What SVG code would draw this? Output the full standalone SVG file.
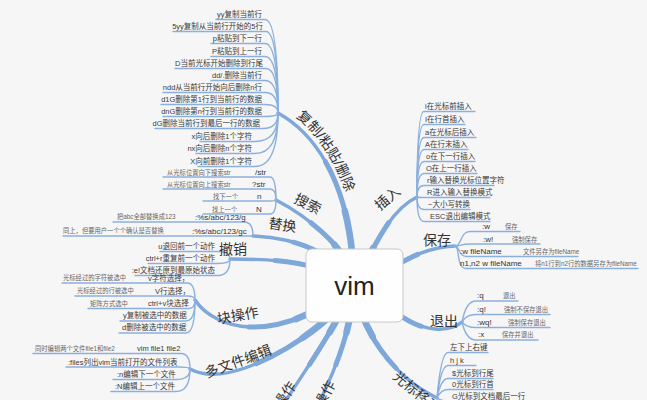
<svg xmlns="http://www.w3.org/2000/svg" width="647" height="400" viewBox="0 0 647 400">
<style>
.b1,.b2,.b3{fill:none;stroke:#7ea7da;stroke-linecap:round}
.b1{stroke-width:3.4}
.b2{stroke-width:5;stroke-dasharray:65 200}
.b3{stroke-width:6.6;stroke-dasharray:38 200}
.lf{fill:none;stroke:#8cb0de;stroke-width:1.4;stroke-linecap:round}
text{font-family:"Liberation Sans","Noto Sans CJK SC",sans-serif}
.t{font-size:7.5px;fill:#3a3a3a}
.d{font-size:6.3px;fill:#666}
.k{font-size:8px;fill:#333}
.lb{font-size:14px;fill:#333}
</style>
<defs>
<path id="tpA" d="M281,107 C308,122 358,167 361,285"/>
<path id="bA" pathLength="100" d="M354,285 C352,170 305,128 278,113"/>
<path id="bB" pathLength="100" d="M354,285 C352,250 305,215 276,200"/>
<path id="bC" pathLength="100" d="M354,285 C335,255 300,238 253,236"/>
<path id="bD" pathLength="100" d="M354,285 C320,262 280,259 230,259"/>
<path id="bE" pathLength="100" d="M354,285 C320,312 285,328 250,327 C225,326 205,315 195,300"/>
<path id="bF" pathLength="100" d="M354,285 C340,315 290,352 245,368 C225,375 205,377 190,369"/>
<path id="bG" pathLength="100" d="M354,285 C335,330 305,370 283,405"/>
<path id="bH" pathLength="100" d="M354,285 C352,330 335,370 318,405"/>
<path id="bI" pathLength="100" d="M354,285 C375,245 390,210 417,197"/>
<path id="bS" pathLength="100" d="M354,285 C390,275 410,248 455,246"/>
<path id="bQ" pathLength="100" d="M354,285 C385,300 405,327 435,329 C448,330 456,327 462,322"/>
<path id="bM" pathLength="100" d="M354,285 C362,330 390,375 437,398"/>
</defs>
<rect width="647" height="400" fill="#f6f6f6"/>
<g id="connectors">
<use href="#bA" class="b1"/><use href="#bA" class="b2"/><use href="#bA" class="b3"/>
<use href="#bB" class="b1"/><use href="#bB" class="b2"/><use href="#bB" class="b3"/>
<use href="#bC" class="b1"/><use href="#bC" class="b2"/><use href="#bC" class="b3"/>
<use href="#bD" class="b1"/><use href="#bD" class="b2"/><use href="#bD" class="b3"/>
<use href="#bE" class="b1"/><use href="#bE" class="b2"/><use href="#bE" class="b3"/>
<use href="#bF" class="b1"/><use href="#bF" class="b2"/><use href="#bF" class="b3"/>
<use href="#bG" class="b1"/><use href="#bG" class="b2"/><use href="#bG" class="b3"/>
<use href="#bH" class="b1"/><use href="#bH" class="b2"/><use href="#bH" class="b3"/>
<use href="#bI" class="b1"/><use href="#bI" class="b2"/><use href="#bI" class="b3"/>
<use href="#bS" class="b1"/><use href="#bS" class="b2"/><use href="#bS" class="b3"/>
<use href="#bQ" class="b1"/><use href="#bQ" class="b2"/><use href="#bQ" class="b3"/>
<use href="#bM" class="b1"/><use href="#bM" class="b2"/><use href="#bM" class="b3"/>
<!-- copy/paste/delete leaves -->
<path class="lf" d="M278,113 Q278,19.5 265,19.5 H216"/>
<path class="lf" d="M278,113 Q278,31.5 266,31.5 H173"/>
<path class="lf" d="M278,113 Q278,43.5 265,43.5 H211"/>
<path class="lf" d="M278,113 Q278,56.5 265,56.5 H211"/>
<path class="lf" d="M278,113 Q278,68.5 266,68.5 H175"/>
<path class="lf" d="M278,113 Q278,80.5 265,80.5 H211"/>
<path class="lf" d="M278,113 Q278,92.5 265,92.5 H163"/>
<path class="lf" d="M278,113 Q278,104.5 265,104.5 H161"/>
<path class="lf" d="M278,113 Q278,116.5 265,116.5 H163"/>
<path class="lf" d="M278,113 Q278,128.5 263,128.5 H155"/>
<path class="lf" d="M278,113 Q278,141.5 255,141.5 H200"/>
<path class="lf" d="M278,113 Q278,153.5 255,153.5 H196"/>
<path class="lf" d="M278,113 Q278,166.5 255,166.5 H198"/>
<!-- search leaves -->
<path class="lf" d="M276,200 Q276,177 270,177 H163"/>
<path class="lf" d="M276,200 Q276,189 270,189 H163"/>
<path class="lf" d="M276,200 Q276,201 270,201 H203"/>
<path class="lf" d="M276,200 Q276,214 270,214 H203"/>
<!-- replace leaves -->
<path class="lf" d="M253,236 C253,226 250,222 244,222 H113"/>
<path class="lf" d="M253,236 H63"/>
<!-- undo leaves -->
<path class="lf" d="M230,259 Q230,251.5 218,251.5 H160"/>
<path class="lf" d="M230,259 Q230,263.5 218,263.5 H148"/>
<path class="lf" d="M230,259 Q230,275.5 218,275.5 H135"/>
<!-- block leaves -->
<path class="lf" d="M195,300 Q195,283 187,283 H62"/>
<path class="lf" d="M195,300 Q195,296 187,296 H75"/>
<path class="lf" d="M195,300 Q195,308.5 189,308.5 H88"/>
<path class="lf" d="M195,300 Q195,321 186,321 H120"/>
<path class="lf" d="M195,300 Q195,333 186,333 H119"/>
<!-- multi-file leaves -->
<path class="lf" d="M190,369 Q190,353.5 181,353.5 H33"/>
<path class="lf" d="M190,369 Q190,367 178,367 H66"/>
<path class="lf" d="M190,369 Q190,379.5 176,379.5 H113"/>
<path class="lf" d="M190,369 Q190,391.5 176,391.5 H111"/>
<!-- insert leaves -->
<path class="lf" d="M417,197 Q417,111.5 424,111.5 H475"/>
<path class="lf" d="M417,197 Q417,124.5 424,124.5 H465"/>
<path class="lf" d="M417,197 Q417,137.5 424,137.5 H476"/>
<path class="lf" d="M417,197 Q417,149.5 424,149.5 H468"/>
<path class="lf" d="M417,197 Q417,161.5 424,161.5 H475"/>
<path class="lf" d="M417,197 Q417,173.5 424,173.5 H477"/>
<path class="lf" d="M417,197 Q417,185.5 424,185.5 H494"/>
<path class="lf" d="M417,197 Q418,197.5 424,197.5 H490"/>
<path class="lf" d="M417,197 Q417,209.5 424,209.5 H470"/>
<path class="lf" d="M417,197 Q417,221.5 424,221.5 H490"/>
<!-- save leaves -->
<path class="lf" d="M455,246 C462,246 460,231.5 470,231.5 H520"/>
<path class="lf" d="M455,246 C462,246 460,244 470,244 H540"/>
<path class="lf" d="M455,246 C460,246 458,256.5 466,256.5 H578"/>
<path class="lf" d="M455,246 C460,246 456,268.5 466,268.5 H638"/>
<!-- quit leaves -->
<path class="lf" d="M462,322 Q466,301 476,301 H518"/>
<path class="lf" d="M462,322 Q466,314.5 476,314.5 H550"/>
<path class="lf" d="M462,322 Q466,327.5 476,327.5 H550"/>
<path class="lf" d="M462,322 Q466,340 476,340 H538"/>
<!-- cursor leaves -->
<path class="lf" d="M437,398 Q441,352.5 448,352.5 H488"/>
<path class="lf" d="M437,398 Q441,365.5 448,365.5 H476"/>
<path class="lf" d="M437,398 Q441,378.5 448,378.5 H493"/>
<path class="lf" d="M437,398 Q441,389.5 448,389.5 H493"/>
<path class="lf" d="M437,398 Q441,401 448,401 H521"/>
</g>

<g id="center">
<rect x="306" y="249" width="97" height="73" rx="6" fill="#fefefe" stroke="#c8c8c8"/>
<text x="354.5" y="295" text-anchor="middle" font-size="26" fill="#222">vim</text>
</g>

<g id="copy-paste-delete">
<text class="lb"><textPath href="#tpA" startOffset="18">复制/粘贴/删除</textPath></text>
<g text-anchor="end" class="t">
<text x="262" y="17">yy复制当前行</text>
<text x="263" y="29">5yy复制从当前行开始的5行</text>
<text x="262" y="41">p粘贴到下一行</text>
<text x="262" y="54">P粘贴到上一行</text>
<text x="263" y="66">D当前光标开始删除到行尾</text>
<text x="262" y="78">dd/.删除当前行</text>
<text x="262" y="90">ndd从当前行开始向后删除n行</text>
<text x="262" y="102">d1G删除第1行到当前行的数据</text>
<text x="262" y="114">dnG删除第n行到当前行的数据</text>
<text x="260" y="126">dG删除当前行到最后一行的数据</text>
<text x="252" y="139">x向后删除1个字符</text>
<text x="252" y="151">nx向后删除n个字符</text>
<text x="252" y="164">X向前删除1个字符</text>
</g>
</g>

<g id="search">
<text class="lb" transform="translate(293,202) rotate(27)">搜索</text>
<text class="d" x="167" y="175">从光标位置向下搜索str</text>
<text class="k" x="255" y="175">/str</text>
<text class="d" x="167" y="187">从光标位置向上搜索str</text>
<text class="k" x="252" y="187">?str</text>
<text class="d" x="213" y="199">找下一个</text>
<text class="k" x="257" y="199">n</text>
<text class="d" x="212" y="212">找上一个</text>
<text class="k" x="256" y="212">N</text>
</g>

<g id="replace">
<text class="lb" transform="translate(268,228) rotate(8)">替换</text>
<text class="d" x="117" y="219">把abc全部替换成123</text>
<text class="k" x="195" y="220">:%s/abc/123/g</text>
<text class="d" x="63" y="233">同上，但要用户一个个确认是否替换</text>
<text class="k" x="192" y="234">:%s/abc/123/gc</text>
</g>

<g id="undo">
<text class="lb" x="219" y="254">撤销</text>
<g text-anchor="end" class="t">
<text x="215" y="249">u退回前一个动作</text>
<text x="215" y="261">ctrl+r重复前一个动作</text>
<text x="215" y="273">:e!文档还原到最原始状态</text>
</g>
</g>

<g id="block">
<text class="lb" transform="translate(218,324) rotate(-10)">块操作</text>
<text class="d" x="63" y="280">光标经过的字符被选中</text>
<text class="t" x="148" y="281">v字符选择，</text>
<text class="d" x="77" y="293">光标经过的行被选中</text>
<text class="t" x="155" y="294">V行选择，</text>
<text class="d" x="90" y="306">矩阵方式选中</text>
<text class="t" x="148" y="306">ctrl+v块选择</text>
<text class="t" x="123" y="318">y复制被选中的数据</text>
<text class="t" x="122" y="330">d删除被选中的数据</text>
</g>

<g id="multi-file">
<text class="lb" transform="translate(207,378) rotate(-20)">多文件编辑</text>
<text class="d" x="35" y="351">同时编辑两个文件file1和file2</text>
<text class="t" x="137" y="351">vim file1 file2</text>
<text class="t" x="68" y="365">:files列出vim当前打开的文件列表</text>
<text class="t" x="117" y="377">:n编辑下一个文件</text>
<text class="t" x="115" y="389">:N编辑上一个文件</text>
</g>

<g id="window">
<text class="lb" text-anchor="end" transform="translate(297,386) rotate(-55)">多窗口操作</text>
</g>
<g id="tab">
<text class="lb" text-anchor="end" transform="translate(336,384) rotate(-62)">多标签操作</text>
</g>

<g id="insert">
<text class="lb" transform="translate(380,211) rotate(-40)">插入</text>
<g class="t">
<text x="425" y="109">i在光标前插入</text>
<text x="425" y="122">I在行首插入</text>
<text x="425" y="135">a在光标后插入</text>
<text x="425" y="147">A在行末插入</text>
<text x="426" y="159">o在下一行插入</text>
<text x="426" y="171">O在上一行插入</text>
<text x="427" y="183">r输入替换光标位置字符</text>
<text x="427" y="195">R进入输入替换模式</text>
<text x="428" y="207">~大小写转换</text>
<text x="430" y="219">ESC退出编辑模式</text>
</g>
</g>

<g id="save">
<text class="lb" x="423" y="245">保存</text>
<text class="k" x="482" y="229">:w</text>
<text class="d" x="505" y="229">保存</text>
<text class="k" x="483" y="242">:w!</text>
<text class="d" x="512" y="242">强制保存</text>
<text class="k" x="460" y="254">:w fileName</text>
<text class="d" x="523" y="254">文件另存为fileName</text>
<text class="k" x="460" y="266">n1,n2 w fileName</text>
<text class="d" x="535" y="266">将n1行到n2行的数据另存为fileName</text>
</g>

<g id="quit">
<text class="lb" x="430" y="326">退出</text>
<text class="k" x="477" y="298">:q</text>
<text class="d" x="503" y="298">退出</text>
<text class="k" x="477" y="312">:q!</text>
<text class="d" x="504" y="312">强制不保存退出</text>
<text class="k" x="477" y="325">:wq!</text>
<text class="d" x="508" y="325">强制保存退出</text>
<text class="k" x="478" y="337">:x</text>
<text class="d" x="502" y="337">保存并退出</text>
</g>

<g id="cursor">
<text class="lb" transform="translate(392,378) rotate(40)">光标移动</text>
<g class="t">
<text x="450" y="350">左下上右键</text>
<text x="450" y="363">h  j  k</text>
<text x="452" y="376">$光标到行尾</text>
<text x="452" y="387">0光标到行首</text>
<text x="452" y="399">G光标到文档最后一行</text>
</g>
</g>
</svg>
